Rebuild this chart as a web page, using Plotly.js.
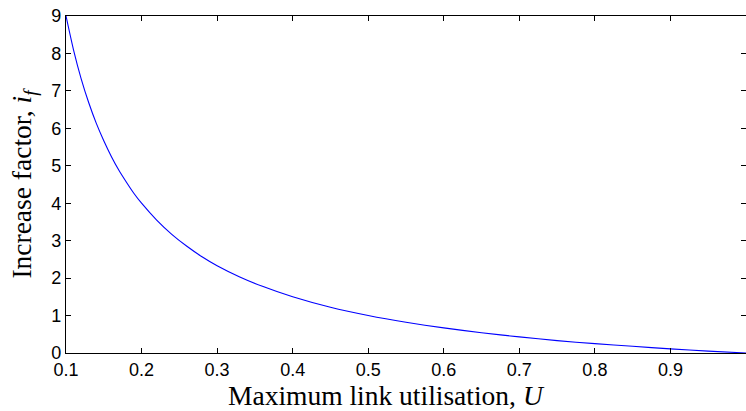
<!DOCTYPE html>
<html><head><meta charset="utf-8">
<script src="https://cdn.plot.ly/plotly-3.0.1.min.js"></script>
<style>html,body{margin:0;padding:0;background:#fff}#c{width:746px;height:411px}</style>
</head><body><div id="c"></div>
<script>
const utilisation = [0.10,0.11,0.12,0.13,0.14,0.15,0.16,0.17,0.18,0.19,0.20,0.22,0.24,0.26,0.28,0.30,0.33,0.36,0.40,0.45,0.50,0.55,0.60,0.65,0.70,0.75,0.80,0.85,0.90,0.95,1.00];
const increaseFactor = [9.00,8.09,7.33,6.69,6.14,5.67,5.25,4.88,4.56,4.26,4.00,3.55,3.17,2.85,2.57,2.33,2.03,1.78,1.50,1.22,1.00,0.82,0.67,0.54,0.43,0.33,0.25,0.18,0.11,0.05,0.00];
const xTicks = [0.1,0.2,0.3,0.4,0.5,0.6,0.7,0.8,0.9,1];
const yTicks = [0,1,2,3,4,5,6,7,8,9];

const tickFont = {family:'Liberation Sans, Arial, sans-serif', size:18, color:'#000'};
const titleFont = {family:'Liberation Serif, Times New Roman, serif', size:27.5, color:'#000'};

Plotly.newPlot('c', [{
  x: utilisation, y: increaseFactor, type:'scatter', mode:'lines',
  line:{color:'#0000ff', width:1.1, shape:'spline', smoothing:0.6}
}], {
  width:746, height:411,
  margin:{l:66, r:0, t:16, b:58},
  paper_bgcolor:'#fff', plot_bgcolor:'#fff',
  showlegend:false,
  xaxis:{range:[0.1,1], tickvals:xTicks, ticktext:xTicks.map(v=>v===1?'1':v.toFixed(1)),
    ticks:'inside', ticklen:5, tickcolor:'#000', showline:true, linecolor:'#000', linewidth:1.2,
    mirror:'ticks', showgrid:false, zeroline:false, tickfont:tickFont,
    title:{text:'Maximum link utilisation, <i>U</i>&nbsp;&nbsp;&nbsp;&nbsp;&nbsp;&nbsp;', font:titleFont, standoff:0}},
  yaxis:{range:[0,9], tickvals:yTicks,
    ticks:'inside', ticklen:5, tickcolor:'#000', showline:true, linecolor:'#000', linewidth:1.2,
    mirror:'ticks', showgrid:false, zeroline:false, tickfont:tickFont,
    title:{text:'Increase factor, <i>i</i><sub><i>f</i></sub>', font:titleFont, standoff:11}}
}, {displayModeBar:false, staticPlot:true});
</script></body></html>
